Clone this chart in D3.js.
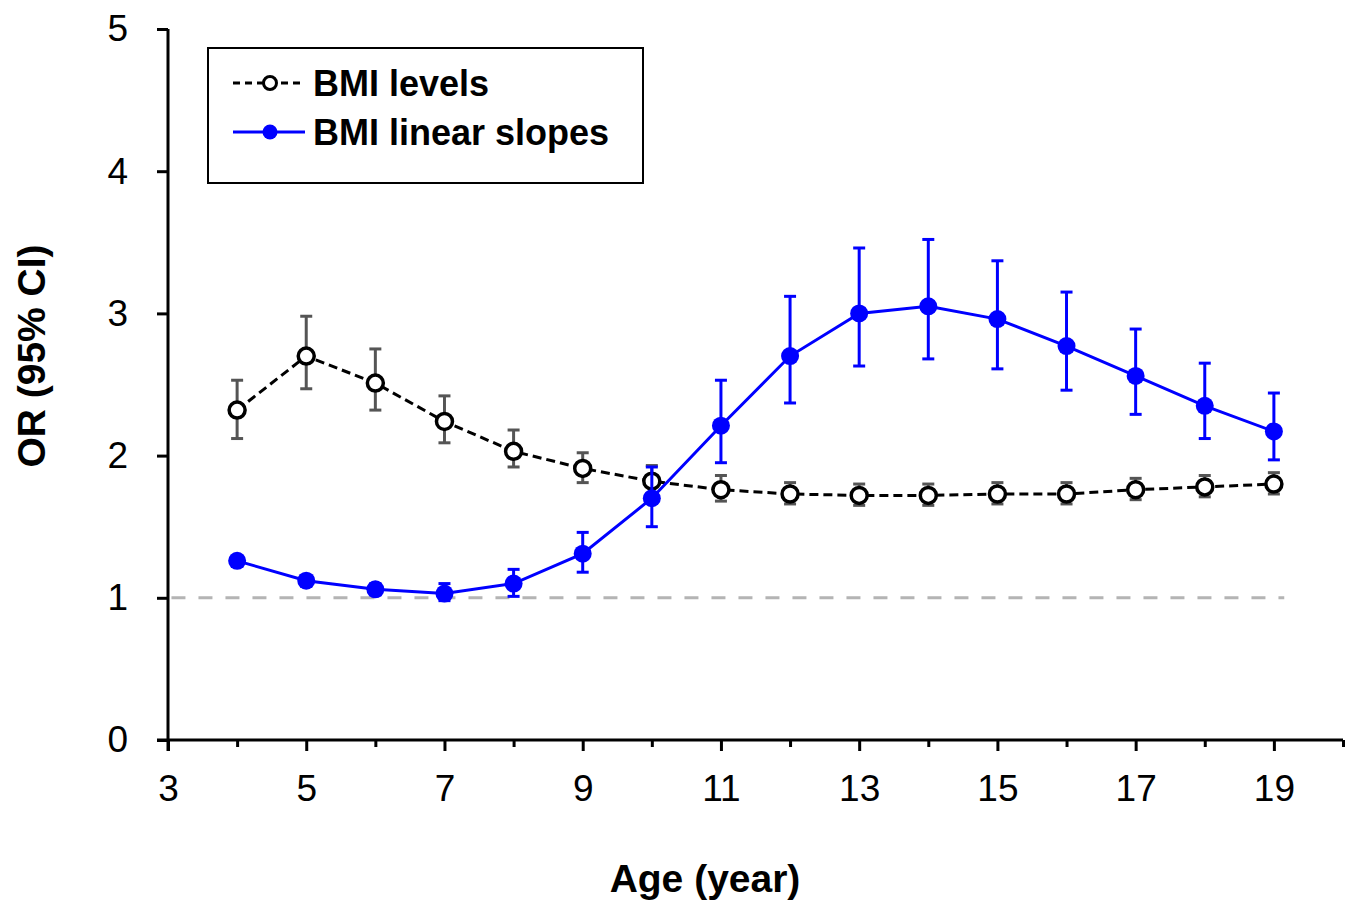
<!DOCTYPE html>
<html>
<head>
<meta charset="utf-8">
<script src="https://d3js.org/d3.v7.min.js"></script>
<style>
    body { margin: 0; background: #fff; }
    svg { display: block; font-family: "Liberation Sans", Arial, sans-serif; }
</style>
</head>
<body>
<div id="chart"></div>
<script>

    // ages and odds ratios
    var ages = [4, 5, 6, 7, 8, 9, 10, 11, 12, 13, 14, 15, 16, 17, 18, 19];

    var levelsOR  = [2.32, 2.70, 2.51, 2.24, 2.03, 1.91, 1.82, 1.76, 1.73, 1.72, 1.72, 1.73, 1.73, 1.76, 1.78, 1.80];
    var levelsLow = [2.12, 2.47, 2.32, 2.09, 1.92, 1.81, 1.73, 1.68, 1.66, 1.65, 1.65, 1.66, 1.66, 1.69, 1.71, 1.73];
    var levelsUp  = [2.53, 2.98, 2.75, 2.42, 2.18, 2.02, 1.93, 1.86, 1.81, 1.80, 1.80, 1.81, 1.81, 1.84, 1.86, 1.88];

    var slopesOR  = [1.26, 1.12, 1.06, 1.03, 1.10, 1.31, 1.70, 2.21, 2.70, 3.00, 3.05, 2.96, 2.77, 2.56, 2.35, 2.17];
    var slopesLow = [1.22, 1.08, 1.02, 0.98, 1.01, 1.18, 1.50, 1.95, 2.37, 2.63, 2.68, 2.61, 2.46, 2.29, 2.12, 1.97];
    var slopesUp  = [1.29, 1.15, 1.10, 1.10, 1.20, 1.46, 1.92, 2.53, 3.12, 3.46, 3.52, 3.37, 3.15, 2.89, 2.65, 2.44];

    var xMajorTicks = [3, 5, 7, 9, 11, 13, 15, 17, 19];
    var xMinorTicks = [4, 6, 8, 10, 12, 14, 16, 18, 20];
    var yTicks = [0, 1, 2, 3, 4, 5];
    var refOR = 1;

    var W = 1357, H = 903;

    var svg = d3.select("#chart").append("svg")
        .attr("width", W)
        .attr("height", H);

    var x = d3.scaleLinear().domain([3, 20]).range([168, 1343]);
    var y = d3.scaleLinear().domain([0, 5]).range([740, 29]);

    // reference line at OR = 1
    svg.append("line")
        .attr("x1", x(3.05)).attr("x2", x(19.15))
        .attr("y1", y(refOR)).attr("y2", y(refOR))
        .attr("stroke", "#b4b4b4")
        .attr("stroke-width", 3)
        .attr("stroke-dasharray", "14,13");

    // x axis: minor ticks first, then major ticks with labels
    svg.append("g")
        .attr("transform", "translate(0," + y(0) + ")")
        .call(d3.axisBottom(x).tickValues(xMinorTicks).tickSize(7).tickFormat(""))
        .call(function (g) { g.select(".domain").remove(); })
        .selectAll("line").attr("stroke", "#000").attr("stroke-width", 3);

    var xAxis = svg.append("g")
        .attr("transform", "translate(0," + y(0) + ")")
        .call(d3.axisBottom(x).tickValues(xMajorTicks).tickSize(11).tickSizeOuter(0).tickPadding(24));
    xAxis.select(".domain").attr("stroke", "#000").attr("stroke-width", 3)
        .attr("d", "M" + (x(3) - 11) + ",0H" + x(20));
    xAxis.selectAll(".tick line").attr("stroke", "#000").attr("stroke-width", 3);
    xAxis.selectAll("text").attr("font-size", 37).attr("fill", "#000");

    var yAxis = svg.append("g")
        .attr("transform", "translate(" + x(3) + ",0)")
        .call(d3.axisLeft(y).tickValues(yTicks).tickFormat(d3.format("d"))
            .tickSize(11).tickSizeOuter(0).tickPadding(29));
    yAxis.select(".domain").attr("stroke", "#000").attr("stroke-width", 3)
        .attr("d", "M0," + y(5) + "V" + (y(0) + 11));
    yAxis.selectAll(".tick line").attr("stroke", "#000").attr("stroke-width", 3);
    yAxis.selectAll("text").attr("font-size", 37).attr("fill", "#000");

    // axis titles
    svg.append("text")
        .attr("x", 705).attr("y", 892)
        .attr("text-anchor", "middle")
        .attr("font-size", 39).attr("font-weight", "bold")
        .text("Age (year)");

    svg.append("text")
        .attr("transform", "translate(45,356) rotate(-90)")
        .attr("text-anchor", "middle")
        .attr("font-size", 39).attr("font-weight", "bold")
        .text("OR (95% CI)");

    function errorBars(lo, hi, color) {
        var g = svg.append("g").attr("stroke", color).attr("stroke-width", 3);
        ages.forEach(function (a, i) {
            g.append("line").attr("x1", x(a)).attr("x2", x(a)).attr("y1", y(lo[i])).attr("y2", y(hi[i]));
            g.append("line").attr("x1", x(a) - 6).attr("x2", x(a) + 6).attr("y1", y(lo[i])).attr("y2", y(lo[i]));
            g.append("line").attr("x1", x(a) - 6).attr("x2", x(a) + 6).attr("y1", y(hi[i])).attr("y2", y(hi[i]));
        });
    }

    var line = d3.line()
        .x(function (d) { return x(d[0]); })
        .y(function (d) { return y(d[1]); });

    // BMI levels
    errorBars(levelsLow, levelsUp, "#555");
    svg.append("path")
        .datum(ages.map(function (a, i) { return [a, levelsOR[i]]; }))
        .attr("d", line)
        .attr("fill", "none")
        .attr("stroke", "#000")
        .attr("stroke-width", 3)
        .attr("stroke-dasharray", "9,5");
    svg.selectAll(".lvl")
        .data(ages)
        .enter().append("circle")
        .attr("cx", function (d) { return x(d); })
        .attr("cy", function (d, i) { return y(levelsOR[i]); })
        .attr("r", 8)
        .attr("fill", "#fff")
        .attr("stroke", "#000")
        .attr("stroke-width", 3.5);

    // BMI linear slopes
    errorBars(slopesLow, slopesUp, "#0000ff");
    svg.append("path")
        .datum(ages.map(function (a, i) { return [a, slopesOR[i]]; }))
        .attr("d", line)
        .attr("fill", "none")
        .attr("stroke", "#0000ff")
        .attr("stroke-width", 3);
    svg.selectAll(".slp")
        .data(ages)
        .enter().append("circle")
        .attr("cx", function (d) { return x(d); })
        .attr("cy", function (d, i) { return y(slopesOR[i]); })
        .attr("r", 9)
        .attr("fill", "#0000ff");

    // legend
    var lg = svg.append("g");
    lg.append("rect")
        .attr("x", 208).attr("y", 48).attr("width", 435).attr("height", 135)
        .attr("fill", "#fff").attr("stroke", "#000").attr("stroke-width", 2);

    lg.append("line").attr("x1", 233).attr("x2", 305).attr("y1", 83).attr("y2", 83)
        .attr("stroke", "#000").attr("stroke-width", 3).attr("stroke-dasharray", "7,5");
    lg.append("circle").attr("cx", 270).attr("cy", 83).attr("r", 6.5)
        .attr("fill", "#fff").attr("stroke", "#000").attr("stroke-width", 3);
    lg.append("text").attr("x", 313).attr("y", 96)
        .attr("font-size", 36).attr("font-weight", "bold").text("BMI levels");

    lg.append("line").attr("x1", 233).attr("x2", 305).attr("y1", 132).attr("y2", 132)
        .attr("stroke", "#0000ff").attr("stroke-width", 3);
    lg.append("circle").attr("cx", 270).attr("cy", 132).attr("r", 7.5)
        .attr("fill", "#0000ff");
    lg.append("text").attr("x", 313).attr("y", 145)
        .attr("font-size", 36).attr("font-weight", "bold").text("BMI linear slopes");

</script>
</body>
</html>
